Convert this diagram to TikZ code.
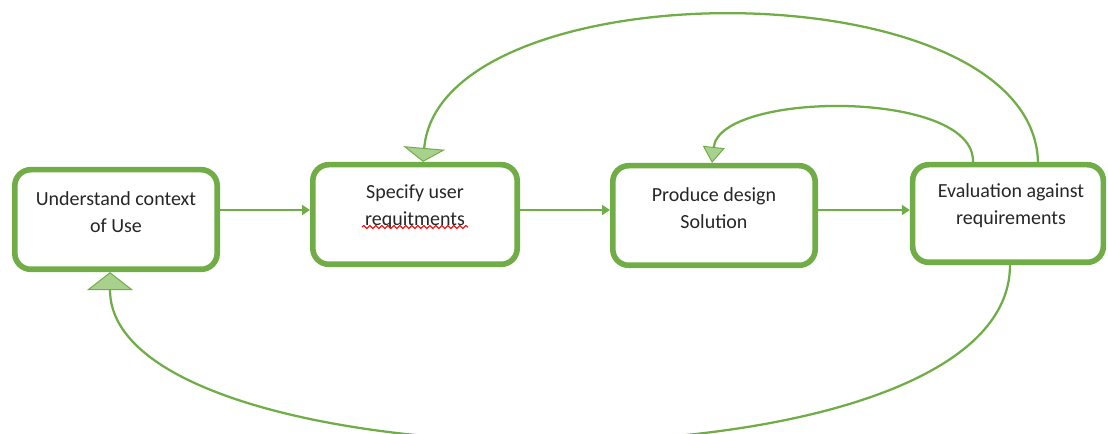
\documentclass[tikz,border=0pt]{standalone}
\usepackage{fontspec}
\setmainfont{Carlito}
\usetikzlibrary{arrows.meta,decorations.pathmorphing}
\definecolor{stepgreen}{HTML}{70AD47}
\definecolor{tipgreen}{HTML}{A9D18E}
\definecolor{inkgray}{HTML}{262626}
\tikzset{
  stepbox/.style={draw=stepgreen, line width=4.2pt, rounded corners=12pt,
    minimum width=151.8pt, minimum height=74.7pt, inner sep=0pt},
  steptext/.style={align=center, text=inkgray, inner sep=0pt,
    font=\fontsize{15}{20.25}\selectfont},
  flow/.style={draw=stepgreen, line width=2pt,
    -{Triangle[length=6pt,width=7.5pt]}},
  backflow/.style={draw=stepgreen, line width=1.7pt},
  bigtip/.style={-{Triangle[length=10.5pt,width=31.5pt,line width=0.75pt,fill=tipgreen]}},
}
\begin{document}
\begin{tikzpicture}[x=0.75pt,y=-0.75pt]
  \useasboundingbox (0,0) rectangle (1108,434);

  \node[stepbox] (ctx)    at (116,219.5) {};
  \node[stepbox, minimum width=153.3pt] (spec) at (415,214.5) {};
  \node[stepbox] (design) at (714,215.5) {};
  \node[stepbox, minimum width=143pt, minimum height=73.2pt] (eval) at (1008,213.5) {};

  \node[steptext] (ctxt)    at (116,212) {Understand context\\of Use};
  \node[steptext] (spect)   at (415,207) {Specify user\\requitments};
  \node[steptext] (designt) at (714,208) {Produce design\\Solution};
  \node[steptext] (evalt)   at (1011,206) {Evaluation against\\requirements};

  % Rechtschreibung
  \draw[red, line width=0.8pt, decorate,
        decoration={snake, amplitude=1.1pt, segment length=4.5pt}]
        (362,227) -- (468,227);

  \coordinate (row) at (0,210);
  \draw[flow] (ctx.east |- row)    -- (spec.west |- row);
  \draw[flow] (spec.east |- row)   -- (design.west |- row);
  \draw[flow] (design.east |- row) -- (eval.west |- row);

  % Rueckfuehrungen
  \draw[backflow, bigtip] ([xshift=22.5pt]eval.north)
        .. controls +(-6,-197) and +(17,-195) .. ([xshift=6pt]spec.north);
  \draw[backflow, -{Triangle[length=12pt,width=16.5pt,line width=0.75pt,fill=tipgreen]}]
        ([xshift=-26.25pt]eval.north)
        .. controls +(2,-73) and +(8,-72) .. ([xshift=-1.5pt]design.north);
  \draw[backflow, -{Triangle[length=13.5pt,width=34.5pt,line width=0.75pt,fill=tipgreen]}]
        ([xshift=1.5pt]eval.south)
        .. controls +(0,238) and +(0,218) .. ([xshift=-4.5pt]ctx.south);
\end{tikzpicture}
\end{document}
